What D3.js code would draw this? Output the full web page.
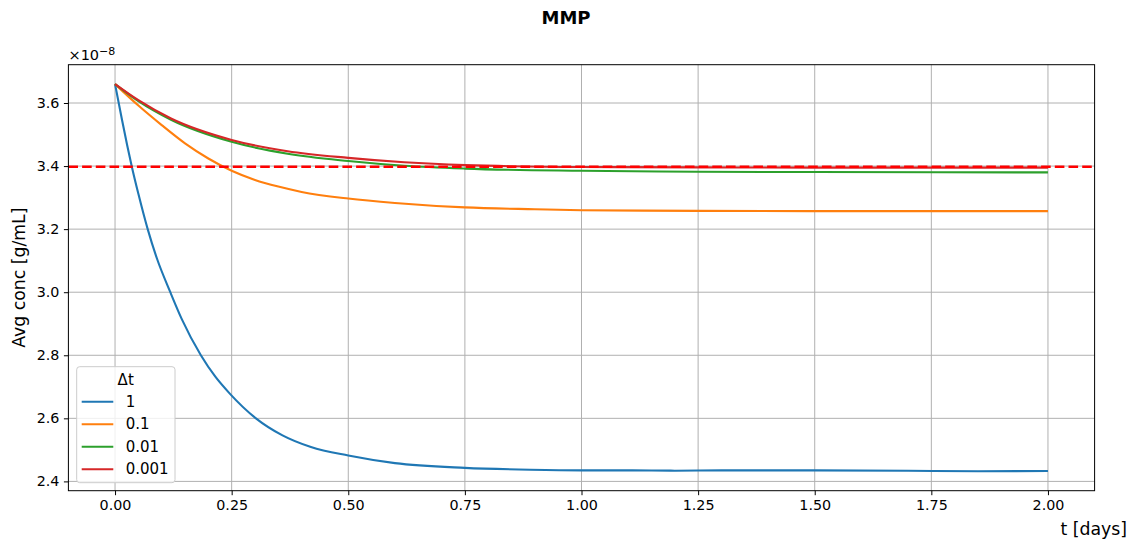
<!DOCTYPE html>
<html>
<head>
<meta charset="utf-8">
<script src="https://cdn.jsdelivr.net/npm/d3@7"></script>
<style>
  body { margin: 0; background: #fff; }
  text { font-family: "DejaVu Sans", sans-serif; }
</style>
</head>
<body>
<script>
// Datos (concentración en unidades de 1e-8 g/mL)
var seriesNames = ["1", "0.1", "0.01", "0.001"]
var seriesColors = ["#1f77b4", "#ff7f0e", "#2ca02c", "#d62728"]

var tDt1 = [0, 0.015, 0.026, 0.036, 0.05, 0.07, 0.09, 0.1185, 0.1436, 0.184, 0.215, 0.245, 0.302, 0.359, 0.42, 0.5, 0.6, 0.75, 0.89, 1.0, 1.1, 1.2, 1.3, 1.5, 1.7, 1.85, 2.0]
var cDt1 = [3.66, 3.546, 3.466, 3.398, 3.312, 3.2, 3.106, 3.0, 2.913, 2.8, 2.732, 2.68, 2.60, 2.546, 2.509, 2.482, 2.458, 2.443, 2.437, 2.435, 2.435, 2.434, 2.435, 2.435, 2.434, 2.432, 2.433]

var tDt01 = [0, 0.05, 0.1, 0.15, 0.2, 0.25, 0.3, 0.35, 0.4, 0.5, 0.6, 0.75, 0.9, 1.0, 1.25, 1.5, 2.0]
var cDt01 = [3.66, 3.592, 3.53, 3.472, 3.424, 3.385, 3.356, 3.335, 3.318, 3.297, 3.283, 3.269, 3.263, 3.260, 3.258, 3.257, 3.257]

var tDt001 = [0, 0.05, 0.12, 0.25, 0.37, 0.5, 0.62, 0.75, 1.0, 1.25, 1.5, 2.0]
var cDt001 = [3.66, 3.606, 3.547, 3.477, 3.439, 3.416, 3.401, 3.392, 3.385, 3.382, 3.381, 3.380]

var tDt0001 = [0, 0.05, 0.12, 0.25, 0.37, 0.5, 0.62, 0.75, 1.0, 1.25, 1.5, 2.0]
var cDt0001 = [3.66, 3.609, 3.551, 3.483, 3.447, 3.426, 3.412, 3.403, 3.397, 3.396, 3.395, 3.395]

var steadyState = 3.398

var xTicks = [0, 0.25, 0.5, 0.75, 1.0, 1.25, 1.5, 1.75, 2.0]
var yTicks = [2.4, 2.6, 2.8, 3.0, 3.2, 3.4, 3.6]

var seriesT = [tDt1, tDt01, tDt001, tDt0001]
var seriesC = [cDt1, cDt01, cDt001, cDt0001]

//Configuración general
var W = 1134, H = 543
var margin = { top: 64.7, right: 1134 - 1094.6, bottom: 543 - 490.7, left: 68.4 },
width = W - margin.left - margin.right,
height = H - margin.top - margin.bottom

var svg = d3.select("body")
.append("svg")
.attr("width", W)
.attr("height", H)

var g = svg.append("g")
.attr("transform", "translate(" + margin.left + "," + margin.top + ")")

//Escalas
var x = d3.scaleLinear().domain([-0.1, 2.1]).range([0, width])
var y = d3.scaleLinear().domain([2.3705, 3.7215]).range([height, 0])

//Rejilla
g.append("g")
.selectAll("line")
.data(xTicks)
.enter()
.append("line")
.attr("x1", d => x(d)).attr("x2", d => x(d))
.attr("y1", 0).attr("y2", height)
.attr("stroke", "#b0b0b0")
.attr("stroke-width", 1)

g.append("g")
.selectAll("line")
.data(yTicks)
.enter()
.append("line")
.attr("y1", d => y(d)).attr("y2", d => y(d))
.attr("x1", 0).attr("x2", width)
.attr("stroke", "#b0b0b0")
.attr("stroke-width", 1)

//Ejes
var xAxis = g.append("g")
.attr("transform", "translate(0," + height + ")")
.call(d3.axisBottom(x).tickValues(xTicks).tickFormat(d3.format(".2f")).tickSizeInner(4.5).tickSizeOuter(0).tickPadding(4.5))

var yAxis = g.append("g")
.call(d3.axisLeft(y).tickValues(yTicks).tickFormat(d3.format(".1f")).tickSizeInner(4.5).tickSizeOuter(0).tickPadding(4.5))

xAxis.select(".domain").remove()
yAxis.select(".domain").remove()
xAxis.attr("font-size", null).attr("font-family", null)
yAxis.attr("font-size", null).attr("font-family", null)
svg.selectAll(".tick text").style("font-size", "14.3px").attr("fill", "#000")
svg.selectAll(".tick line").attr("stroke", "#000").attr("stroke-width", 1)

//Líneas de cada serie
var line = d3.line()
.x(d => x(d[0]))
.y(d => y(d[1]))
.curve(d3.curveMonotoneX)

seriesT.forEach(function(ts, i) {
    var pts = ts.map((t, j) => [t, seriesC[i][j]])
    g.append("path")
    .datum(pts)
    .attr("fill", "none")
    .attr("stroke", seriesColors[i])
    .attr("stroke-width", 2.1)
    .attr("stroke-linejoin", "round")
    .attr("d", line)
})

//Línea discontinua de estado estacionario
g.append("line")
.attr("x1", 0).attr("x2", width)
.attr("y1", y(steadyState)).attr("y2", y(steadyState))
.attr("stroke", "#ff0000")
.attr("stroke-width", 2.6)
.attr("stroke-dasharray", "9.6,4.1")

//Marco
g.append("rect")
.attr("width", width).attr("height", height)
.attr("fill", "none")
.attr("stroke", "#000")
.attr("stroke-width", 1)

//Textos
svg.append("text")
.attr("x", 566)
.attr("y", 24)
.attr("text-anchor", "middle")
.style("font-size", "18px")
.attr("font-weight", "bold")
.text("MMP")

svg.append("text")
.attr("x", 1127)
.attr("y", 535)
.attr("text-anchor", "end")
.style("font-size", "17.3px")
.text("t [days]")

svg.append("text")
.attr("transform", "translate(24.5," + (margin.top + height / 2) + ") rotate(-90)")
.attr("text-anchor", "middle")
.style("font-size", "17.3px")
.text("Avg conc [g/mL]")

var offText = svg.append("text")
.attr("x", 68.5)
.attr("y", 60)
.style("font-size", "14.5px")
offText.append("tspan").text("×10")
offText.append("tspan").attr("dy", -5.5).style("font-size", "11px").text("−8")

//Leyenda
var leg = svg.append("g").attr("transform", "translate(76.7,366.7)")
leg.append("rect")
.attr("width", 98.3).attr("height", 116)
.attr("rx", 3)
.attr("fill", "#fff").attr("fill-opacity", 0.8)
.attr("stroke", "#cccccc").attr("stroke-width", 1)

leg.append("text")
.attr("x", 49)
.attr("y", 18.5)
.attr("text-anchor", "middle")
.style("font-size", "15px")
.text("Δt")

var rows = leg.selectAll(".row")
.data(seriesNames)
.enter()
.append("g")
.attr("transform", (d, i) => "translate(0," + (35 + i * 22.5) + ")")

rows.append("line")
.attr("x1", 5).attr("x2", 36.6)
.attr("stroke", (d, i) => seriesColors[i])
.attr("stroke-width", 2.1)

rows.append("text")
.attr("x", 49)
.attr("y", 5.2)
.style("font-size", "15px")
.text(d => d)
</script>
</body>
</html>
